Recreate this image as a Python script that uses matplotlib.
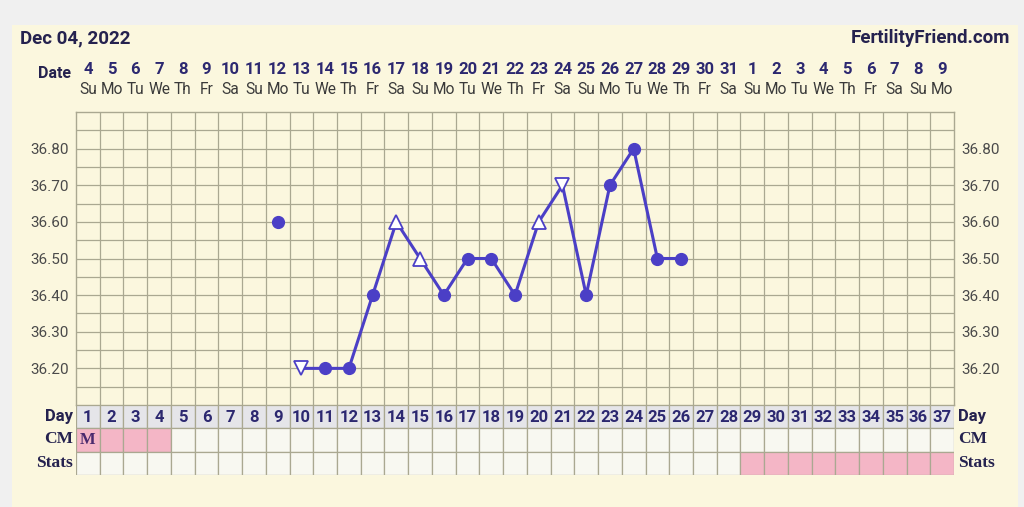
import matplotlib
matplotlib.use('Agg')
import matplotlib.pyplot as plt
import numpy as np
from matplotlib.patches import Rectangle
import matplotlib.transforms as mtransforms

# ---------------- data ----------------
cycle_days = list(range(1, 38))
dates = [4, 5, 6, 7, 8, 9, 10, 11, 12, 13, 14, 15, 16, 17, 18, 19, 20, 21, 22, 23,
         24, 25, 26, 27, 28, 29, 30, 31, 1, 2, 3, 4, 5, 6, 7, 8, 9]
weekdays = ['Su', 'Mo', 'Tu', 'We', 'Th', 'Fr', 'Sa'] * 5 + ['Su', 'Mo']
temp_days = [9, 10, 11, 12, 13, 14, 15, 16, 17, 18, 19, 20, 21, 22, 23, 24, 25, 26]
temps = [36.60, 36.20, 36.20, 36.20, 36.40, 36.60, 36.50, 36.40, 36.50, 36.50,
         36.40, 36.60, 36.70, 36.40, 36.70, 36.80, 36.50, 36.50]
marker_kind = ['dot', 'down', 'dot', 'dot', 'dot', 'up', 'up', 'dot', 'dot', 'dot',
               'dot', 'up', 'down', 'dot', 'dot', 'dot', 'dot', 'dot']
connected = [False] + [True] * 17
ytick_vals = [36.20, 36.30, 36.40, 36.50, 36.60, 36.70, 36.80]
cm_days_pink = [1, 2, 3, 4]
cm_text = {1: 'M'}
stats_days_pink = [29, 30, 31, 32, 33, 34, 35, 36, 37]

# ---------------- style ----------------
W, H = 1024, 507
CREAM = '#fbf7de'
GRIDC = '#aaa891'
LINEC = '#4b3fc6'
NAVY = '#25224f'
NUMC = '#2c2870'
PINK = '#f4b6c6'
DAYBG = '#e5e5e9'
CELLBG = '#f8f8f1'

fig = plt.figure(figsize=(W / 100, H / 100), dpi=100)
fig.patch.set_facecolor('#f0f0f0')
fig.patches.append(Rectangle((12 / W, 0), (1018 - 12) / W, (507 - 25) / H,
                             transform=fig.transFigure, facecolor=CREAM,
                             edgecolor='none', zorder=-5))

x0, x1 = 76, 954
ax = fig.add_axes([x0 / W, 1 - 405 / H, (x1 - x0) / W, (405 - 112) / H])
ax.set_facecolor(CREAM)
ax.set_xlim(0.5, 37.5)
ax.set_ylim(36.10, 36.90)
for xv in np.arange(1.5, 37.5, 1):
    ax.axvline(xv, color=GRIDC, lw=0.9, zorder=1)
for yv in np.arange(36.15, 36.89, 0.05):
    ax.axhline(yv, color=GRIDC, lw=0.9, zorder=1)
for s in ax.spines.values():
    s.set_color(GRIDC)
    s.set_linewidth(1.0)
ax.set_xticks([])
ax.set_yticks(ytick_vals)
ax.set_yticklabels([f'{v:.2f}' for v in ytick_vals])
ax.tick_params(axis='y', length=0, pad=5, labelsize=11, labelcolor='#4a4a4a',
               labelleft=True, labelright=True)
for lab in ax.get_yticklabels():
    lab.set_fontfamily('Roboto')

# line
cx = [d for d, c in zip(temp_days, connected) if c]
cy = [t for t, c in zip(temps, connected) if c]
ax.plot(cx, cy, color=LINEC, lw=2.2, zorder=3, solid_joinstyle='round')
for d, t, k in zip(temp_days, temps, marker_kind):
    if k == 'dot':
        ax.plot(d, t, 'o', ms=8.5, color=LINEC, mec=LINEC, zorder=4)
    elif k == 'up':
        ax.plot(d, t, '^', ms=10, mfc='white', mec=LINEC, mew=1.3, zorder=4)
    else:
        ax.plot(d, t, 'v', ms=10, mfc='white', mec=LINEC, mew=1.3, zorder=4)

# header labels (dates / weekdays)
trans = mtransforms.blended_transform_factory(ax.transData, fig.transFigure)
for d, dt, wd in zip(cycle_days, dates, weekdays):
    ax.text(d, 1 - 69 / H, str(dt), transform=trans, ha='center', va='center',
            fontsize=12, fontweight='bold', color=NUMC, family='Roboto', clip_on=False)
    ax.text(d, 1 - 90 / H, wd, transform=trans, ha='center', va='center',
            fontsize=11.2, color='#3a3a3a', family='Roboto', clip_on=False)
fig.text(71 / W, 1 - 74 / H, 'Date', ha='right', va='center', fontsize=11.5,
         fontweight='bold', color=NAVY, family='Roboto')

fig.text(20 / W, 1 - 38 / H, 'Dec 04, 2022', ha='left', va='center', fontsize=13.5,
         fontweight='bold', color=NAVY, family='Roboto')
fig.text(1010 / W, 1 - 38 / H, 'FertilityFriend.com', ha='right', va='center',
         fontsize=13.5, fontweight='bold', color=NAVY, family='Roboto')

# table
tax = fig.add_axes([x0 / W, 1 - 475 / H, (x1 - x0) / W, 70 / H])
tax.set_xlim(0.5, 37.5)
tax.set_ylim(3, 0)
tax.axis('off')
for d in cycle_days:
    tax.add_patch(Rectangle((d - 0.5, 0), 1, 1, facecolor=DAYBG, edgecolor=GRIDC, lw=0.9))
    tax.add_patch(Rectangle((d - 0.5, 1), 1, 1,
                            facecolor=PINK if d in cm_days_pink else CELLBG,
                            edgecolor=GRIDC, lw=0.9))
    tax.add_patch(Rectangle((d - 0.5, 2), 1, 1,
                            facecolor=PINK if d in stats_days_pink else CELLBG,
                            edgecolor=GRIDC, lw=0.9))
    tax.text(d, 0.52, str(d), ha='center', va='center', fontsize=12,
             fontweight='bold', color=NUMC, family='Roboto')
    if d in cm_text:
        tax.text(d, 1.52, cm_text[d], ha='center', va='center', fontsize=12,
                 fontweight='bold', color='#4a2a6e', family='Liberation Serif')

row_y = [416, 439, 463]
row_names = ['Day', 'CM', 'Stats']
row_fams = ['Roboto', 'Liberation Serif', 'Liberation Serif']
row_sizes = [12, 12.5, 12.5]
for yv, nm, fam, fs in zip(row_y, row_names, row_fams, row_sizes):
    fig.text(73 / W, 1 - yv / H, nm, ha='right', va='center', fontsize=fs,
             fontweight='bold', color=NAVY, family=fam)
    fig.text(958 / W, 1 - yv / H, nm, ha='left', va='center', fontsize=fs,
             fontweight='bold', color=NAVY, family=fam)

fig.savefig('out.png', dpi=100, facecolor=fig.get_facecolor())
